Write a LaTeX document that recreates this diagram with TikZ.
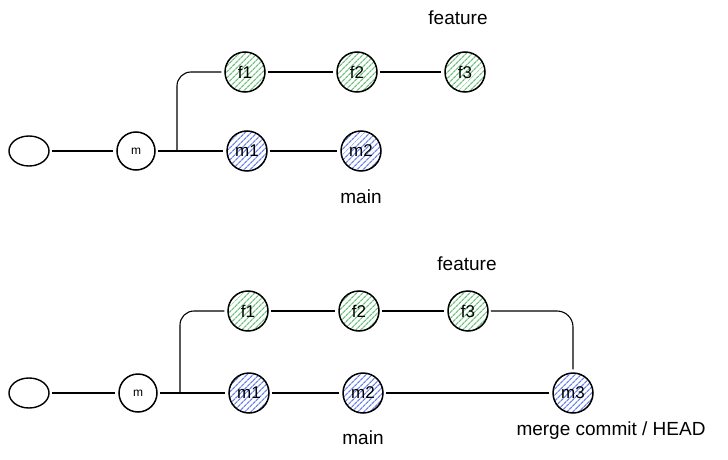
\documentclass[tikz,border=0pt]{standalone}
\usepackage{fontspec}
\setmainfont{Liberation Sans}
\usepackage{tikz}
\usetikzlibrary{positioning}
\usetikzlibrary{shapes.geometric}
\usetikzlibrary{patterns.meta}
\definecolor{hatchgreen}{HTML}{6FC27E}
\definecolor{hatchblue}{HTML}{6A82EA}

\begin{document}
\begin{tikzpicture}[x=1pt,y=-1pt]
			\tikzstyle{RootStyle}   = [shape = ellipse, minimum width = 40pt, minimum height = 30pt, draw, line width = 1.4pt]
			\tikzstyle{CommitStyle} = [shape = circle, minimum size = 40pt, inner sep = 0pt, draw, line width = 1.5pt, font = \fontsize{17}{17}\selectfont]
			\tikzstyle{BaseStyle}   = [CommitStyle, minimum size = 38pt, font = \fontsize{12}{12}\selectfont]
			\tikzstyle{FeatStyle}   = [CommitStyle, pattern = {Lines[angle = 45, distance = 4pt, line width = 1.3pt]}, pattern color = hatchgreen]
			\tikzstyle{MainStyle}   = [CommitStyle, pattern = {Lines[angle = 45, distance = 4pt, line width = 1.3pt]}, pattern color = hatchblue]
			\tikzstyle{LabelStyle}  = [font = \fontsize{19}{19}\selectfont]
			\tikzstyle{EdgeStyle}   = [line width = 1.1pt, shorten < = 2pt, shorten > = 3pt]
			\tikzstyle{BranchStyle} = [line width = 1.1pt, rounded corners = 14pt, shorten > = 3pt]
			\useasboundingbox (0,0) rectangle (728,460);
			% before the merge
			\node[RootStyle] (r) at (29,151) {};
			\node[BaseStyle] (m) at (136,151) {m};
			\node[MainStyle] (m1) at (247,151) {m1};
			\node[MainStyle] (m2) at (361,151) {m2};
			\node[FeatStyle] (f1) at (245,72) {f1};
			\node[FeatStyle] (f2) at (357,72) {f2};
			\node[FeatStyle] (f3) at (465,72) {f3};
			\node[LabelStyle] (feat) at (458,18) {feature};
			\node[LabelStyle] (main) at (361,197) {main};
			\coordinate (b) at (177,151);
			\draw[EdgeStyle] (r) -- (m);
			\draw[EdgeStyle] (m) -- (m1);
			\draw[EdgeStyle] (m1) -- (m2);
			\draw[EdgeStyle] (f1) -- (f2);
			\draw[EdgeStyle] (f2) -- (f3);
			\draw[BranchStyle] (b) |- (f1);
			% after the merge
			\node[RootStyle] (R) at (29,393) {};
			\node[BaseStyle] (M) at (138,393) {m};
			\node[MainStyle] (M1) at (249,393) {m1};
			\node[MainStyle] (M2) at (363,393) {m2};
			\node[MainStyle] (M3) at (573,393) {m3};
			\node[FeatStyle] (F1) at (248,311) {f1};
			\node[FeatStyle] (F2) at (359,311) {f2};
			\node[FeatStyle] (F3) at (468,311) {f3};
			\node[LabelStyle] (Feat) at (467,264) {feature};
			\node[LabelStyle] (Main) at (363,438) {main};
			\node[LabelStyle] (Head) at (611,431) {merge commit / HEAD};
			\coordinate (B) at (180,393);
			\draw[EdgeStyle] (R) -- (M);
			\draw[EdgeStyle] (M) -- (M1);
			\draw[EdgeStyle] (M1) -- (M2);
			\draw[EdgeStyle] (M2) -- (M3);
			\draw[EdgeStyle] (F1) -- (F2);
			\draw[EdgeStyle] (F2) -- (F3);
			\draw[BranchStyle] (B) |- (F1);
			\draw[EdgeStyle, rounded corners = 16pt] (F3) -| (M3);
		\end{tikzpicture}
\end{document}
